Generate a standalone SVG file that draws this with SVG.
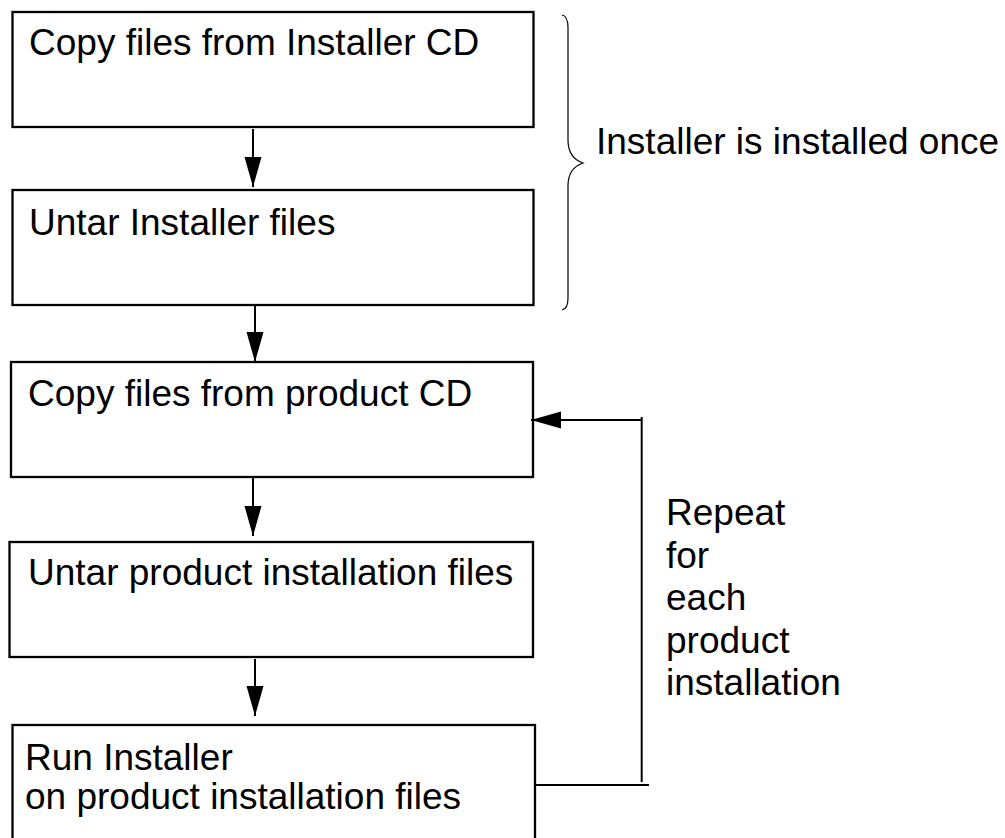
<svg xmlns="http://www.w3.org/2000/svg" width="1005" height="838" viewBox="0 0 1005 838">
<style>
.box{fill:#fff;stroke:#000;stroke-width:2.3}
.t{font-family:"Liberation Sans",Arial,sans-serif;font-size:37px;fill:#000}
.c{fill:none;stroke:#000;stroke-width:2}
</style>
<defs>
<marker id="ah" markerUnits="userSpaceOnUse" markerWidth="32" markerHeight="18" refX="30" refY="8.5" orient="auto">
<path d="M0,0 L30,8.5 L0,17 Z" fill="#000"/>
</marker>
</defs>
<rect width="1005" height="838" fill="#fff"/>
<g id="n1"><rect class="box" x="12.5" y="12" width="521" height="115"/><text class="t" x="29" y="55">Copy files from Installer CD</text></g>
<g id="n2"><rect class="box" x="12.5" y="190" width="521" height="115"/><text class="t" x="29" y="235">Untar Installer files</text></g>
<g id="n3"><rect class="box" x="11" y="362" width="522" height="115"/><text class="t" x="28" y="406">Copy files from product CD</text></g>
<g id="n4"><rect class="box" x="9.5" y="542" width="523.5" height="115"/><text class="t" x="28" y="585">Untar product installation files</text></g>
<g id="n5"><rect class="box" x="12.5" y="725" width="522.5" height="130"/><text class="t" x="25" y="770">Run Installer</text><text class="t" x="25" y="809">on product installation files</text></g>
<g id="connectors">
<line class="c" x1="253" y1="129" x2="253" y2="187" marker-end="url(#ah)"/>
<line class="c" x1="255" y1="305" x2="255" y2="362" marker-end="url(#ah)"/>
<line class="c" x1="253" y1="478" x2="253" y2="536" marker-end="url(#ah)"/>
<line class="c" x1="255" y1="659" x2="255" y2="716" marker-end="url(#ah)"/>
<polyline class="c" points="535,785 649,785"/>
<line class="c" x1="641.7" y1="782" x2="641.7" y2="417"/>
<line class="c" x1="641.7" y1="420" x2="531" y2="420" marker-end="url(#ah)"/>
</g>
<g id="brace">
<path d="M562,15 Q568,16 568,28 L568,140 Q568,158 583,163 Q568,168 568,186 L568,298 Q568,309 562,310" fill="none" stroke="#000" stroke-width="1.2"/>
<text class="t" x="596" y="154">Installer is installed once</text>
</g>
<g id="repeat-label">
<text class="t" x="666" y="525">Repeat</text>
<text class="t" x="666" y="567.5">for</text>
<text class="t" x="666" y="610">each</text>
<text class="t" x="666" y="652.5">product</text>
<text class="t" x="666" y="695">installation</text>
</g>
</svg>
